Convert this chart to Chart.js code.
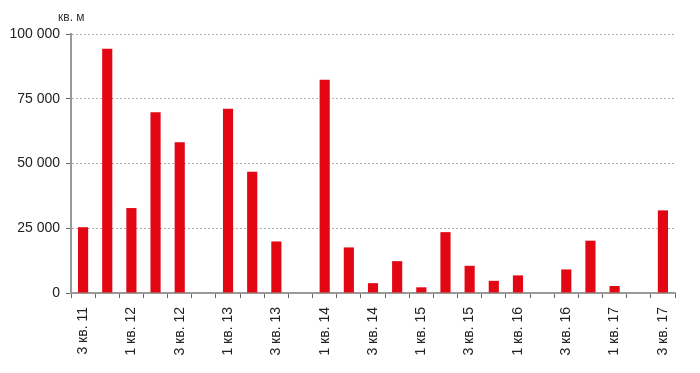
<!DOCTYPE html>
<html>
<head>
<meta charset="utf-8">
<script src="https://cdn.jsdelivr.net/npm/chart.js@4.4.1/dist/chart.umd.min.js"></script>
<style>
  html, body { margin: 0; padding: 0; background: #fff; }
  #wrap { width: 700px; height: 373px; }
</style>
</head>
<body>
<div id="wrap"><canvas id="areaChart"></canvas></div>
<script>
// Кварталы: 3 кв. 11 ... 3 кв. 17
const quarters = [
    "3 кв. 11", "4 кв. 11", "1 кв. 12", "2 кв. 12", "3 кв. 12", "4 кв. 12",
    "1 кв. 13", "2 кв. 13", "3 кв. 13", "4 кв. 13", "1 кв. 14", "2 кв. 14",
    "3 кв. 14", "4 кв. 14", "1 кв. 15", "2 кв. 15", "3 кв. 15", "4 кв. 15",
    "1 кв. 16", "2 кв. 16", "3 кв. 16", "4 кв. 16", "1 кв. 17", "2 кв. 17",
    "3 кв. 17"
];
const area = [
    25400, 94300, 32800, 69800, 58200, 0,
    71100, 46800, 19900, 0, 82300, 17600,
    3800, 12300, 2200, 23500, 10500, 4700,
    6800, 0, 9100, 20200, 2700, 0,
    31900
];
const yTicks = [0, 25000, 50000, 75000, 100000];
const unitLabel = "кв. м";

const fmt = v => String(v).replace(/\B(?=(\d{3})+(?!\d))/g, " ");

// подпись единиц над осью Y
const unitPlugin = {
    id: 'unitLabel',
    afterDraw(chart) {
        const ctx = chart.ctx;
        ctx.save();
        ctx.font = '12px "Liberation Sans", Arial, sans-serif';
        ctx.fillStyle = '#333';
        ctx.textAlign = 'left';
        ctx.textBaseline = 'middle';
        ctx.fillText(unitLabel, 58, 18);
        ctx.restore();
    }
};

new Chart(document.getElementById("areaChart").getContext("2d"), {
    type: 'bar',
    data: {
        labels: quarters,
        datasets: [{
            data: area,
            backgroundColor: '#e30613',
            borderWidth: 0,
            barPercentage: 0.42,
            categoryPercentage: 1
        }]
    },
    options: {
        responsive: true,
        maintainAspectRatio: false,
        animation: false,
        layout: { padding: { top: 34, right: 25, left: 0, bottom: 0 } },
        plugins: {
            legend: { display: false },
            tooltip: { enabled: false }
        },
        scales: {
            x: {
                offset: true,
                grid: {
                    offset: true,
                    drawOnChartArea: false,
                    tickLength: 5,
                    color: '#666'
                },
                border: { color: '#999', width: 2 },
                ticks: {
                    autoSkip: false,
                    maxRotation: 90,
                    minRotation: 90,
                    padding: 9,
                    color: '#222',
                    font: { family: '"Liberation Sans", Arial, sans-serif', size: 14 },
                    callback: function(val, i) { return i % 2 === 0 ? quarters[i] : ''; }
                },
                afterFit: s => { s.height = 80; }
            },
            y: {
                min: 0,
                max: 100000,
                afterBuildTicks: s => { s.ticks = yTicks.map(v => ({ value: v })); },
                grid: {
                    color: '#b0b0b0',
                    tickColor: '#666',
                    tickLength: 5
                },
                // в v4 dash относится к линиям сетки
                border: { color: '#999', width: 2, dash: [2, 2] },
                ticks: {
                    padding: 6,
                    color: '#222',
                    font: { family: '"Liberation Sans", Arial, sans-serif', size: 14 },
                    callback: v => fmt(v)
                },
                afterFit: s => { s.width = 71; }
            }
        }
    },
    plugins: [unitPlugin]
});
</script>
</body>
</html>
